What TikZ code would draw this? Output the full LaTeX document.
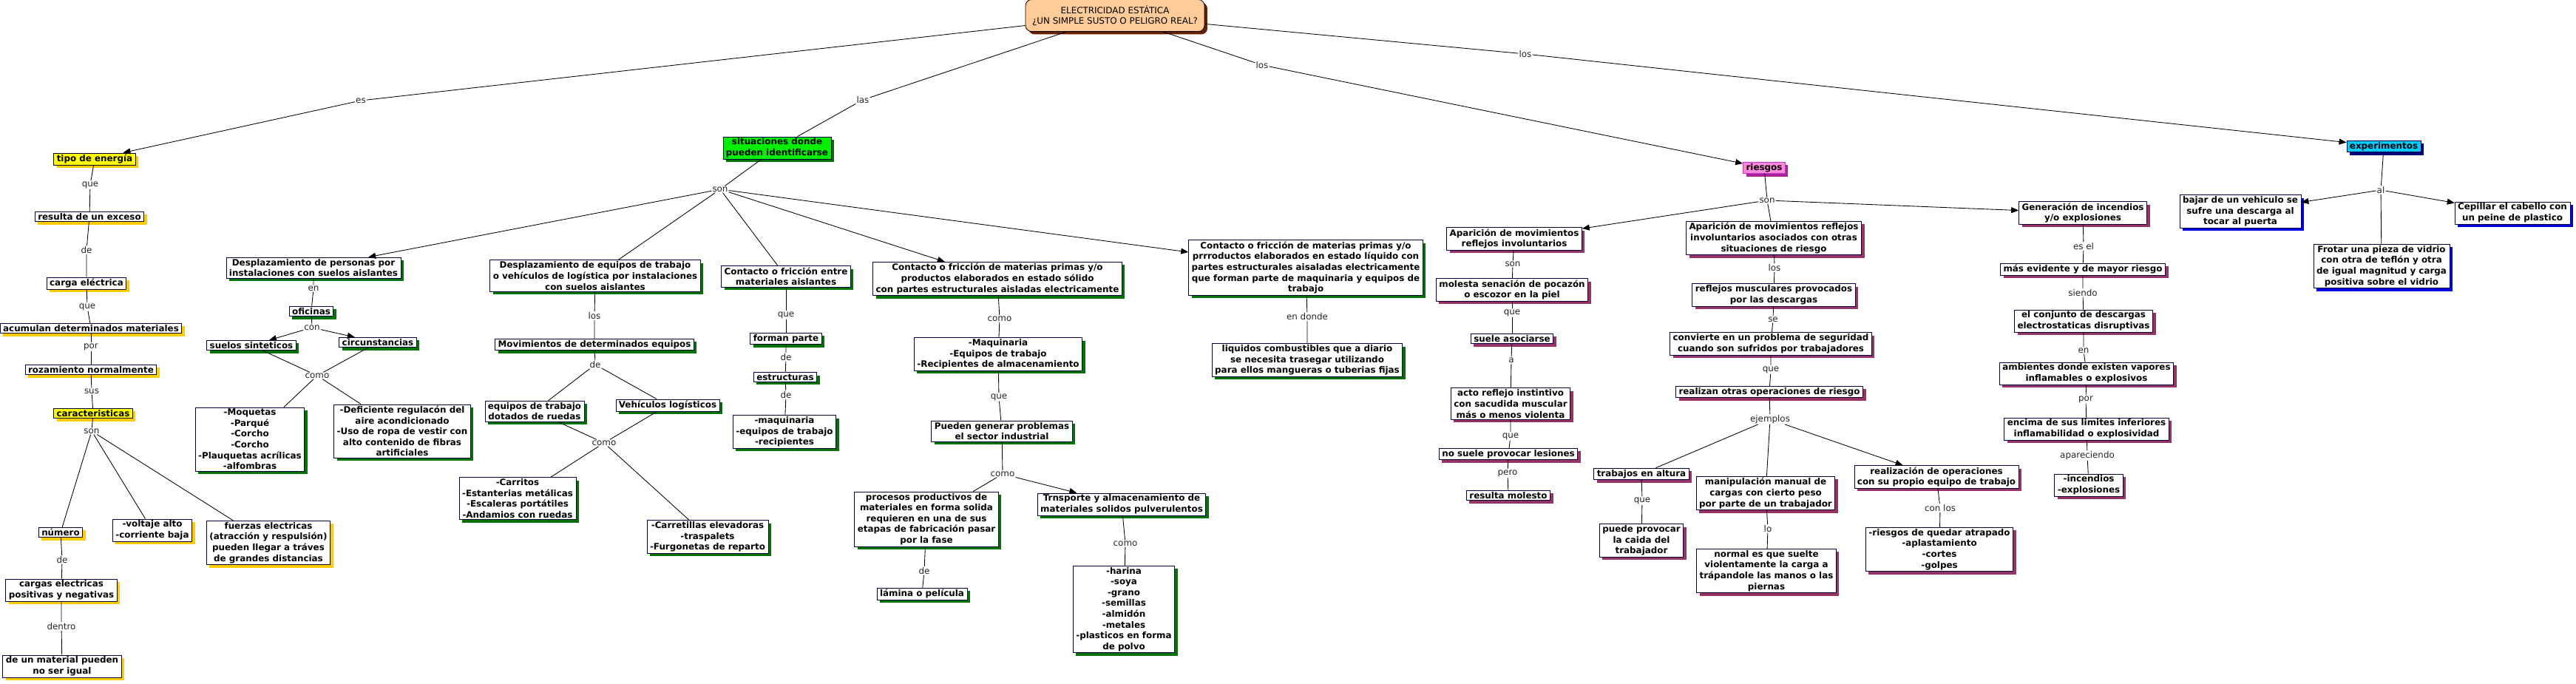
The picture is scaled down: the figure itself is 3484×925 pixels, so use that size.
\documentclass[tikz,border=0pt]{standalone}
\usepackage{fontspec}
\setmainfont{DejaVu Sans}
\usetikzlibrary{shadows,arrows.meta}
\newcommand\fsz{\fontsize{11.9}{14.6}\selectfont}
\definecolor{navyb}{RGB}{0,0,60}
\definecolor{shY}{RGB}{255,204,0}
\definecolor{shG}{RGB}{0,115,0}
\definecolor{shP}{RGB}{153,51,102}
\definecolor{shPr}{RGB}{170,34,153}
\definecolor{shB}{RGB}{0,0,230}
\definecolor{shN}{RGB}{0,0,128}
\definecolor{shBr}{RGB}{102,34,0}
\definecolor{peach}{RGB}{255,204,153}
\definecolor{fillY}{RGB}{255,255,0}
\definecolor{fillG}{RGB}{0,240,0}
\definecolor{fillP}{RGB}{255,136,221}
\definecolor{brdP}{RGB}{204,51,204}
\definecolor{fillC}{RGB}{0,204,255}
\tikzset{
  box/.style={draw=navyb, line width=0.8pt, fill=white, align=center,
    font=\bfseries\fsz, inner xsep=4pt, inner ysep=2pt},
  ybox/.style={box, drop shadow={shadow xshift=4pt, shadow yshift=-4pt, fill=shY, opacity=1}},
  gbox/.style={box, drop shadow={shadow xshift=4pt, shadow yshift=-4pt, fill=shG, opacity=1}},
  pbox/.style={box, drop shadow={shadow xshift=4pt, shadow yshift=-4pt, fill=shP, opacity=1}},
  bbox/.style={box, drop shadow={shadow xshift=4pt, shadow yshift=-4pt, fill=shB, opacity=1}},
  lbl/.style={font=\fsz, fill=white, inner sep=1pt, text=black!85},
  conn/.style={draw=black, line width=0.85pt},
  arr/.style={conn, -{Triangle[length=10pt,width=8pt]}},
}
\begin{document}
\begin{tikzpicture}[x=1pt,y=-1pt]
\useasboundingbox[fill=white] (0,0) rectangle (3484,925);

% ---------- top ----------
\node[draw=black, line width=0.8pt, fill=peach, rounded corners=8pt, align=center,
  font=\fsz, inner xsep=9pt, minimum height=43pt,
  drop shadow={shadow xshift=4pt, shadow yshift=-4pt, fill=shBr, opacity=1}]
  (top) at (1508,21) {ELECTRICIDAD ESTÁTICA\\¿UN SIMPLE SUSTO O PELIGRO REAL?};

\node[lbl] (l_es) at (488,136) {es};
\node[lbl] (l_las) at (1167,135) {las};
\node[lbl] (l_los1) at (1707,88) {los};
\node[lbl] (l_los2) at (2063,73) {los};

% ---------- yellow branch ----------
\node[ybox, fill=fillY] (tipo) at (128,215) {tipo de energía};
\node[lbl] (l_que1) at (122,250) {que};
\node[ybox] (resulta) at (121,293) {resulta de un exceso};
\node[lbl] (l_de1) at (117,338) {de};
\node[ybox] (carga) at (117,383) {carga eléctrica};
\node[lbl] (l_que2) at (118,415) {que};
\node[ybox] (acumulan) at (123,444) {acumulan determinados materiales};
\node[lbl] (l_por) at (123,469) {por};
\node[ybox] (rozam) at (123,500) {rozamiento normalmente};
\node[lbl] (l_sus) at (124,529) {sus};
\node[ybox, fill=fillY] (caract) at (126,559) {caracteristicas};
\node[lbl] (l_son1) at (124,583) {son};
\node[ybox] (numero) at (82,720) {número};
\node[lbl] (l_de2) at (84,757) {de};
\node[ybox] (cargas) at (83,798) {cargas electricas\\positivas y negativas};
\node[lbl] (l_dentro) at (83,847) {dentro};
\node[ybox] (material) at (84,901) {de un material pueden\\no ser igual};
\node[ybox] (voltaje) at (206,717) {-voltaje alto\\-corriente baja};
\node[ybox] (fuerzas) at (363,734) {fuerzas electricas\\(atracción y respulsión)\\pueden llegar a tráves\\de grandes distancias};

% ---------- green branch ----------
\node[gbox, fill=fillG] (sit) at (1051,200) {situaciones donde\\pueden identificarse};
\node[lbl] (l_son2) at (974,256) {son};
\node[gbox] (despers) at (424,362) {Desplazamiento de personas por\\instalaciones con suelos aislantes};
\node[lbl] (l_en1) at (424,390) {en};
\node[gbox] (oficinas) at (421,421) {oficinas};
\node[lbl] (l_con) at (422,443) {con};
\node[gbox] (suelos) at (340,467) {suelos sinteticos};
\node[gbox] (circ) at (511,463) {circunstancias};
\node[lbl] (l_como1) at (429,508) {como};
\node[gbox] (moq) at (338,594) {-Moquetas\\-Parqué\\-Corcho\\-Corcho\\-Plauquetas acrílicas\\-alfombras};
\node[gbox] (defic) at (544,583) {-Deficiente regulacón del\\aire acondicionado\\-Uso de ropa de vestir con\\alto contenido de fibras\\artificiales};
\node[gbox] (desequ) at (805,373) {Desplazamiento de equipos de trabajo\\o vehículos de logística por instalaciones\\con suelos aislantes};
\node[lbl] (l_los3) at (804,427) {los};
\node[gbox] (movim) at (804,466) {Movimientos de determinados equipos};
\node[lbl] (l_de3) at (805,493) {de};
\node[gbox] (ruedas) at (723,556) {equipos de trabajo\\dotados de ruedas};
\node[gbox] (vehic) at (903,548) {Vehículos logísticos};
\node[lbl] (l_como2) at (817,599) {como};
\node[gbox] (carritos) at (700,674) {-Carritos\\-Estanterias metálicas\\-Escaleras portátiles\\-Andamios con ruedas};
\node[gbox] (carret) at (957,726) {-Carretillas elevadoras\\-traspalets\\-Furgonetas de reparto};
\node[gbox] (contacto) at (1063,374) {Contacto o fricción entre\\materiales aislantes};
\node[lbl] (l_que3) at (1063,426) {que};
\node[gbox] (forman) at (1063,458) {forman parte};
\node[lbl] (l_de4) at (1063,483) {de};
\node[gbox] (estruct) at (1062,510) {estructuras};
\node[lbl] (l_de5) at (1063,534) {de};
\node[gbox] (maquin) at (1061,584) {-maquinaria\\-equipos de trabajo\\-recipientes};
\node[gbox] (solido) at (1349,377) {Contacto o fricción de materias primas y/o\\productos elaborados en estado sólido\\con partes estructurales aisladas electricamente};
\node[lbl] (l_como3) at (1352,431) {como};
\node[gbox] (Maq) at (1350,479) {-Maquinaria\\-Equipos de trabajo\\-Recipientes de almacenamiento};
\node[lbl] (l_que4) at (1351,537) {que};
\node[gbox] (pueden) at (1355,583) {Pueden generar problemas\\el sector industrial};
\node[lbl] (l_como4) at (1356,641) {como};
\node[gbox] (procesos) at (1253,702) {procesos productivos de\\materiales en forma solida\\requieren en una de sus\\etapas de fabricación pasar\\por la fase};
\node[lbl] (l_de6) at (1250,772) {de};
\node[gbox] (lamina) at (1247,803) {lámina o película};
\node[gbox] (trnsp) at (1517,682) {Trnsporte y almacenamiento de\\materiales solidos pulverulentos};
\node[lbl] (l_como5) at (1522,735) {como};
\node[gbox] (harina) at (1520,824) {-harina\\-soya\\-grano\\-semillas\\-almidón\\-metales\\-plasticos en forma\\de polvo};
\node[gbox] (liquido) at (1766,362) {Contacto o fricción de materias primas y/o\\prrroductos elaborados en estado líquido con\\partes estructurales aisaladas electricamente\\que forman parte de maquinaria y equipos de\\trabajo};
\node[lbl] (l_endonde) at (1768,428) {en donde};
\node[gbox] (liqcomb) at (1768,487) {liquidos combustibles que a diario\\se necesita trasegar utilizando\\para ellos mangueras o tuberias fijas};

% ---------- purple branch ----------
\node[box, draw=brdP, fill=fillP, drop shadow={shadow xshift=4pt, shadow yshift=-4pt, fill=shPr, opacity=1}] (riesgos) at (2386,227) {riesgos};
\node[lbl] (l_son3) at (2390,271) {son};
\node[pbox] (apar1) at (2048,323) {Aparición de movimientos\\reflejos involuntarios};
\node[lbl] (l_son4) at (2046,357) {son};
\node[pbox] (molesta) at (2045,392) {molesta senación de pocazón\\o escozor en la piel};
\node[lbl] (l_que5) at (2045,423) {que};
\node[pbox] (suele) at (2045,458) {suele asociarse};
\node[lbl] (l_a) at (2044,487) {a};
\node[pbox] (acto) at (2043,546) {acto reflejo instintivo\\con sacudida muscular\\más o menos violenta};
\node[lbl] (l_que6) at (2043,590) {que};
\node[pbox] (nosuele) at (2040,614) {no suele provocar lesiones};
\node[lbl] (l_pero) at (2039,640) {pero};
\node[pbox] (resmol) at (2040,670) {resulta molesto};
\node[pbox] (apar2) at (2399,322) {Aparición de movimientos reflejos\\involuntarios asociados con otras\\situaciones de riesgo};
\node[lbl] (l_los4) at (2400,362) {los};
\node[pbox] (reflejos) at (2399,399) {reflejos musculares provocados\\por las descargas};
\node[lbl] (l_se) at (2398,432) {se};
\node[pbox] (convierte) at (2395,465) {convierte en un problema de seguridad\\cuando son sufridos por trabajadores};
\node[lbl] (l_que7) at (2395,500) {que};
\node[pbox] (realizan) at (2393,530) {realizan otras operaciones de riesgo};
\node[lbl] (l_ejemplos) at (2394,567) {ejemplos};
\node[pbox] (altura) at (2220,641) {trabajos en altura};
\node[lbl] (l_que8) at (2221,677) {que};
\node[pbox] (caida) at (2220,731) {puede provocar\\la caida del\\trabajador};
\node[pbox] (manip) at (2388,667) {manipulación manual de\\cargas con cierto peso\\por parte de un trabajador};
\node[lbl] (l_lo) at (2391,715) {lo};
\node[pbox] (normal) at (2389,772) {normal es que suelte\\violentamente la carga a\\trápandole las manos o las\\piernas};
\node[pbox] (realiz) at (2619,645) {realización de operaciones\\con su propio equipo de trabajo};
\node[lbl] (l_conlos) at (2624,687) {con los};
\node[pbox] (atrap) at (2623,743) {-riesgos de quedar atrapado\\-aplastamiento\\-cortes\\-golpes};
\node[pbox] (gener) at (2817,288) {Generación de incendios\\y/o explosiones};
\node[lbl] (l_esel) at (2818,333) {es el};
\node[pbox] (evid) at (2817,364) {más evidente y de mayor riesgo};
\node[lbl] (l_siendo) at (2817,396) {siendo};
\node[pbox] (conj) at (2818,434) {el conjunto de descargas\\electrostaticas disruptivas};
\node[lbl] (l_en2) at (2818,474) {en};
\node[pbox] (ambient) at (2822,505) {ambientes donde existen vapores\\inflamables o explosivos};
\node[lbl] (l_por2) at (2821,540) {por};
\node[pbox] (encima) at (2822,580) {encima de sus limites inferiores\\inflamabilidad o explosividad};
\node[lbl] (l_aparec) at (2823,616) {apareciendo};
\node[pbox] (incend) at (2825,656) {-incendios\\-explosiones};

% ---------- blue branch ----------
\node[box, fill=fillC, drop shadow={shadow xshift=4pt, shadow yshift=-4pt, fill=shN, opacity=1}] (exper) at (3224,198) {experimentos};
\node[lbl] (l_al) at (3220,257) {al};
\node[bbox] (bajar) at (3030,286) {bajar de un vehiculo se\\sufre una descarga al\\tocar al puerta};
\node[bbox] (cepillar) at (3398,288) {Cepillar el cabello con\\un peine de plastico};
\node[bbox] (frotar) at (3221,360) {Frotar una pieza de vidrio\\con otra de teflón y otra\\de igual magnitud y carga\\positiva sobre el vidrio};

% ---------- connectors ----------
\draw[conn] (top) -- (l_es);  \draw[arr] (l_es) -- (tipo);
\draw[conn] (top) -- (l_las); \draw[conn] (l_las) -- (sit);
\draw[conn] (top) -- (l_los1); \draw[arr] (l_los1) -- (riesgos);
\draw[conn] (top) -- (l_los2); \draw[arr] (l_los2) -- (exper);

\draw[conn] (tipo) -- (l_que1) -- (resulta);
\draw[conn] (resulta) -- (l_de1) -- (carga);
\draw[conn] (carga) -- (l_que2) -- (acumulan);
\draw[conn] (acumulan) -- (l_por) -- (rozam);
\draw[conn] (rozam) -- (l_sus) -- (caract);
\draw[conn] (caract) -- (l_son1);
\draw[conn] (l_son1) -- (numero);
\draw[conn] (l_son1) -- (voltaje);
\draw[conn] (l_son1) -- (fuerzas);
\draw[conn] (numero) -- (l_de2) -- (cargas);
\draw[conn] (cargas) -- (l_dentro) -- (material);

\draw[conn] (sit) -- (l_son2);
\draw[arr] (l_son2) -- (despers);
\draw[conn] (l_son2) -- (desequ);
\draw[conn] (l_son2) -- (contacto);
\draw[arr] (l_son2) -- (solido);
\draw[arr] (l_son2) -- (liquido);
\draw[conn] (despers) -- (l_en1) -- (oficinas);
\draw[conn] (oficinas) -- (l_con);
\draw[arr] (l_con) -- (suelos);
\draw[arr] (l_con) -- (circ);
\draw[conn] (suelos) -- (l_como1);
\draw[conn] (circ) -- (l_como1);
\draw[conn] (l_como1) -- (moq);
\draw[conn] (l_como1) -- (defic);
\draw[conn] (desequ) -- (l_los3) -- (movim);
\draw[conn] (movim) -- (l_de3);
\draw[conn] (l_de3) -- (ruedas);
\draw[conn] (l_de3) -- (vehic);
\draw[conn] (ruedas) -- (l_como2);
\draw[conn] (vehic) -- (l_como2);
\draw[conn] (l_como2) -- (carritos);
\draw[conn] (l_como2) -- (carret);
\draw[conn] (contacto) -- (l_que3) -- (forman);
\draw[conn] (forman) -- (l_de4) -- (estruct);
\draw[conn] (estruct) -- (l_de5) -- (maquin);
\draw[conn] (solido) -- (l_como3) -- (Maq);
\draw[conn] (Maq) -- (l_que4) -- (pueden);
\draw[conn] (pueden) -- (l_como4);
\draw[conn] (l_como4) -- (procesos);
\draw[arr] (l_como4) -- (trnsp);
\draw[conn] (procesos) -- (l_de6) -- (lamina);
\draw[conn] (trnsp) -- (l_como5) -- (harina);
\draw[conn] (liquido) -- (l_endonde) -- (liqcomb);

\draw[conn] (riesgos) -- (l_son3);
\draw[arr] (l_son3) -- (apar1);
\draw[conn] (l_son3) -- (apar2);
\draw[arr] (l_son3) -- (gener);
\draw[conn] (apar1) -- (l_son4) -- (molesta);
\draw[conn] (molesta) -- (l_que5) -- (suele);
\draw[conn] (suele) -- (l_a) -- (acto);
\draw[conn] (acto) -- (l_que6) -- (nosuele);
\draw[conn] (nosuele) -- (l_pero) -- (resmol);
\draw[conn] (apar2) -- (l_los4) -- (reflejos);
\draw[conn] (reflejos) -- (l_se) -- (convierte);
\draw[conn] (convierte) -- (l_que7) -- (realizan);
\draw[conn] (realizan) -- (l_ejemplos);
\draw[conn] (l_ejemplos) -- (altura);
\draw[conn] (l_ejemplos) -- (manip);
\draw[arr] (l_ejemplos) -- (realiz);
\draw[conn] (altura) -- (l_que8) -- (caida);
\draw[conn] (manip) -- (l_lo) -- (normal);
\draw[conn] (realiz) -- (l_conlos) -- (atrap);
\draw[conn] (gener) -- (l_esel) -- (evid);
\draw[conn] (evid) -- (l_siendo) -- (conj);
\draw[conn] (conj) -- (l_en2) -- (ambient);
\draw[conn] (ambient) -- (l_por2) -- (encima);
\draw[conn] (encima) -- (l_aparec) -- (incend);

\draw[conn] (exper) -- (l_al);
\draw[arr] (l_al) -- (bajar);
\draw[arr] (l_al) -- (cepillar);
\draw[conn] (l_al) -- (frotar);
\end{tikzpicture}
\end{document}
